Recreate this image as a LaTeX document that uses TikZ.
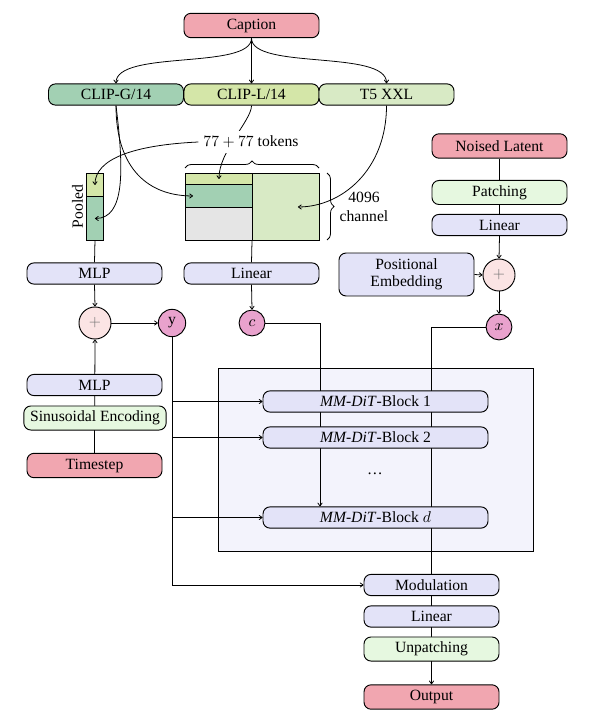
\documentclass[tikz,border=0pt]{standalone}
\usepackage{fontspec}
\setmainfont{Liberation Serif}
\usetikzlibrary{arrows.meta,calc,decorations.pathreplacing}
\pgfdeclarelayer{bottom}
\pgfdeclarelayer{lines}
\pgfdeclarelayer{front}
\pgfsetlayers{bottom,lines,main,front}
\definecolor{cpink}{HTML}{F1A6B0}
\definecolor{cclipg}{HTML}{A2D0B3}
\definecolor{cclipl}{HTML}{D4E6A8}
\definecolor{ctfive}{HTML}{D8EAC5}
\definecolor{cgreen}{HTML}{E6F8E0}
\definecolor{clav}{HTML}{E3E3F8}
\definecolor{cplus}{HTML}{FBE4E4}
\definecolor{cmag}{HTML}{E9A2CD}
\definecolor{cstack}{HTML}{F3F3FC}
\definecolor{cgray}{HTML}{E5E5E5}
\begin{document}
\begin{tikzpicture}[x=0.64pt,y=-0.64pt,
  box/.style={draw, rounded corners=4.5pt, minimum width=86.4pt, align=center, inner xsep=4pt, inner ysep=2.5pt, line width=0.6pt},
  pinkbox/.style={box, fill=cpink, minimum height=15.6pt},
  lavbox/.style={box, fill=clav, minimum height=13.6pt},
  greenbox/.style={box, fill=cgreen, minimum height=15.4pt},
  encbox/.style={box, minimum height=13.6pt},
  blockbox/.style={lavbox, minimum width=144pt},
  circ/.style={circle, draw, inner sep=0pt, line width=0.6pt},
  cell/.style={draw, inner sep=0pt, anchor=north west, line width=0.6pt},
  conn/.style={-{To[length=2.4pt,width=3.2pt]}, line width=0.5pt},
  plain/.style={line width=0.5pt},
  bracestyle/.style={decorate, decoration={brace, amplitude=4.5pt}, line width=0.5pt}
]
\useasboundingbox (0,0) rectangle (595,718);

% top row
\node[pinkbox] (caption) at (251.5,25.5) {Caption};
\node[encbox, fill=cclipg] (clipg) at (116,94.5) {CLIP-G/14};
\node[encbox, fill=cclipl] (clipl) at (251.5,94.5) {CLIP-L/14};
\node[encbox, fill=ctfive] (tfive) at (386.5,94.5) {T5 XXL};

% pooled column
\node[cell, fill=cclipl, minimum width=10.88pt, minimum height=14.72pt] (pooltop) at (86,173) {};
\node[cell, fill=cclipg, minimum width=10.88pt, minimum height=28.16pt] (poolbot) at (86,196) {};
\node[rotate=90] (pooledlbl) at (77.5,206.5) {Pooled};

% token matrix
\node[cell, fill=cclipl, minimum width=42.88pt, minimum height=7.04pt] (toktop) at (185,173) {};
\node[cell, fill=cclipg, minimum width=42.88pt, minimum height=14.72pt] (tokmid) at (185,184) {};
\node[cell, fill=cgray, minimum width=42.88pt, minimum height=21.12pt] (tokbot) at (185,207) {};
\node[cell, fill=ctfive, minimum width=42.88pt, minimum height=42.88pt] (tokright) at (252,173) {};

\begin{pgfonlayer}{front}
\node[fill=white, inner sep=3pt] (toklbl) at (251,142) {$77+77$ tokens};
\end{pgfonlayer}
\node[align=center, inner sep=1pt] (chlbl) at (364,207) {4096\\channel};
\coordinate (bracea) at (185,168);
\coordinate (braceb) at (319,168);
\coordinate (bracec) at (327,173);
\coordinate (braced) at (327,240);
\draw[bracestyle] (bracea) -- (braceb);
\draw[bracestyle] (bracec) -- (braced);

% encoder curves into pooled / token cells
\draw[conn] (clipl.south) .. controls +(0,15) and +(0,-28) .. (toktop.center);
\draw[conn] (toklbl.west) .. controls +(-65,3) and +(0,-26) .. (pooltop.center);
\draw[conn] (clipg.south) .. controls +(8,65) and +(30,0) .. (poolbot.center);
\draw[conn] (clipg.south) .. controls +(0,65) and +(-43,0) .. ($(tokmid.west)+(8,0)$);
\draw[conn] (tfive.south) .. controls +(0,65) and +(43,0) .. ($(tokright.center)+(12,0)$);

% left / middle
\node[lavbox] (mlpa) at (94.5,273.5) {MLP};
\node[lavbox] (lina) at (251.5,273.5) {Linear};
\node[circ, fill=cplus, minimum size=20.5pt, text=black!55] (plusl) at (95,323) {$+$};
\node[circ, fill=cmag, minimum size=17.5pt] (ycirc) at (172,323) {y};
\node[circ, fill=cmag, minimum size=16.5pt] (ccirc) at (252,323) {$c$};
\node[lavbox] (mlpb) at (94.5,385) {MLP};
\node[greenbox] (sinus) at (95,418) {Sinusoidal Encoding};
\node[pinkbox] (timestep) at (94.5,465.5) {Timestep};

% right column
\node[pinkbox] (noised) at (499.5,146) {Noised Latent};
\node[greenbox] (patching) at (499.5,192.5) {Patching};
\node[lavbox] (linb) at (499.5,225) {Linear};
\node[circ, fill=cplus, minimum size=20.5pt, text=black!55] (plusr) at (499,275) {$+$};
\node[lavbox, minimum height=27.5pt] (posemb) at (406.5,274.5) {Positional\\[-1pt]Embedding};
\node[circ, fill=cmag, minimum size=16.5pt] (xcirc) at (499,327) {$x$};

% stack
\begin{pgfonlayer}{bottom}
\node[draw, fill=cstack, minimum width=201.6pt, minimum height=117.1pt, inner sep=0pt, line width=0.6pt] (stack) at (375.5,459.5) {};
\end{pgfonlayer}
\node[blockbox] (blka) at (375.5,401.5) {\textit{MM-DiT}-Block 1};
\node[blockbox] (blkb) at (375.5,437.5) {\textit{MM-DiT}-Block 2};
\node (dots) at (375,474) {\dots};
\node[blockbox] (blkd) at (375.5,517.5) {\textit{MM-DiT}-Block $d$};

% bottom column
\node[lavbox] (modul) at (431.5,585) {Modulation};
\node[lavbox] (linc) at (431.5,616.5) {Linear};
\node[greenbox] (unpatch) at (431.5,649) {Unpatching};
\node[pinkbox] (output) at (431.5,697) {Output};

\coordinate (cx) at (320,0);

\begin{pgfonlayer}{lines}
\draw[conn] (caption.south) .. controls +(0,32) and +(0,-34) .. (clipg.north);
\draw[conn] (caption.south) -- (clipl.north);
\draw[conn] (caption.south) .. controls +(0,32) and +(0,-34) .. (tfive.north);
\draw[plain] (poolbot.south) -- (mlpa.north);
\draw[plain] (tokright.south west) -- (lina.north);
\draw[conn] (mlpa.south) -- (plusl.north);
\draw[conn] (lina.south) -- (ccirc.north);
\draw[conn] (plusl.east) -- (ycirc.west);
\draw[conn] (timestep.north) -- (plusl.south);
\draw[plain] (noised.south) -- (patching.north);
\draw[plain] (patching.south) -- (linb.north);
\draw[conn] (linb.south) -- (plusr.north);
\draw[conn] (posemb.east) -- (plusr.west);
\draw[conn] (plusr.south) -- (xcirc.north);
\draw[conn] (ccirc.east) -| (cx |- blkd.north);
\draw[conn] (xcirc.west) -| (output.north);
\draw[conn] (ycirc.south) |- (modul.west);
\draw[conn] (ycirc.south |- blka.west) -- (blka.west);
\draw[conn] (ycirc.south |- blkb.west) -- (blkb.west);
\draw[conn] (ycirc.south |- blkd.west) -- (blkd.west);
\end{pgfonlayer}
\end{tikzpicture}
\end{document}
